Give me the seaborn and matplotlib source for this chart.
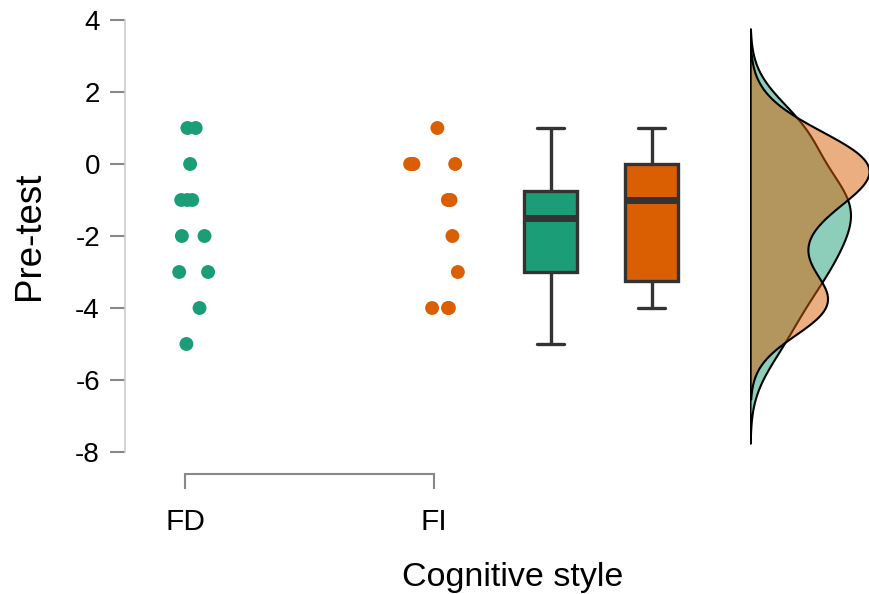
import numpy as np
import pandas as pd
import seaborn as sns
import matplotlib.pyplot as plt
from matplotlib.colors import to_rgba

# data
fd_scores = [1, 1, 0, -1, -1, -1, -2, -2, -3, -3, -4, -5]
fi_scores = [1, 0, 0, 0, 0, -1, -1, -2, -3, -4, -4, -4]
groups = ['FD', 'FI']
colors = ['#1b9e77', '#d95f02']
y_ticks = [4, 2, 0, -2, -4, -6, -8]

df = pd.DataFrame({
    'Cognitive style': ['FD'] * len(fd_scores) + ['FI'] * len(fi_scores),
    'Pre-test': fd_scores + fi_scores,
})

sns.set_style("ticks")
plt.rcParams['font.family'] = ['Liberation Sans', 'DejaVu Sans']
plt.rcParams['axes.unicode_minus'] = False
plt.rcParams['text.color'] = 'black'
plt.rcParams['axes.labelcolor'] = 'black'
plt.rcParams['xtick.color'] = 'black'
plt.rcParams['ytick.color'] = 'black'

W, H = 869, 594
fig = plt.figure(figsize=(W / 100, H / 100), dpi=100)


def px_axes(x0, x1, y0, y1):
    # axes from pixel box (top-left origin)
    return fig.add_axes([x0 / W, 1 - y1 / H, (x1 - x0) / W, (y1 - y0) / H])


ax = px_axes(125, 500, 20, 452)
ax_box = px_axes(500, 702, 20, 452)
ax_kde = px_axes(750, 869, 20, 452)

# points
np.random.seed(0)
sns.stripplot(data=df, x='Cognitive style', y='Pre-test', hue='Cognitive style',
              palette=colors, jitter=0.1, size=10, linewidth=0, legend=False, ax=ax)
ax.set_xlim(-60 / 249, 315 / 249)
ax.set_ylim(-8, 4)
ax.set_yticks(y_ticks)
ax.set_xticks([0, 1])
ax.set_xticklabels(groups)
for s in ['top', 'right']:
    ax.spines[s].set_visible(False)
ax.spines['left'].set_bounds(-8, 4)
ax.spines['left'].set_color('#cccccc')
ax.spines['left'].set_linewidth(1.2)
ax.spines['bottom'].set_bounds(0, 1)
ax.spines['bottom'].set_position(('outward', 16))
ax.spines['bottom'].set_color('#888888')
ax.spines['bottom'].set_linewidth(1.5)
ax.tick_params(axis='y', length=11, width=1.5, color='#888888', labelsize=20, pad=7)
ax.tick_params(axis='x', length=11, width=1.5, color='#888888', labelsize=21.5, pad=13.5)
ax.set_ylabel('Pre-test', fontsize=26.5, labelpad=20)
ax.set_xlabel('Cognitive style', fontsize=24.5)
ax.xaxis.set_label_coords((513 - 125) / 375, -0.255)

# boxes
sns.boxplot(data=df, x='Cognitive style', y='Pre-test', hue='Cognitive style',
            palette=colors, width=0.515, linecolor='#333333', linewidth=2.4,
            saturation=1, legend=False, ax=ax_box,
            medianprops=dict(linewidth=5, color='#333333'))
ax_box.set_xlim(-0.5, 1.5)
ax_box.set_ylim(-8, 4)
ax_box.axis('off')

# densities, bandwidth factors tuned to the reference shapes
bw_factors = [0.49, 0.46]
for scores, c, bw in zip([fd_scores, fi_scores], colors, bw_factors):
    sns.kdeplot(y=scores, bw_method=bw, fill=True, color=c, ax=ax_kde)
peak = 0
for coll, c in zip(ax_kde.collections, colors):
    coll.set_alpha(None)
    coll.set_facecolor(to_rgba(c, 0.5))
    coll.set_edgecolor('black')
    coll.set_linewidth(1.5)
    peak = max(peak, max(p.vertices[:, 0].max() for p in coll.get_paths()))
ax_kde.set_ylim(-8, 4)
ax_kde.set_xlim(0, peak)
ax_kde.axis('off')

fig.savefig('out.png', dpi=100)
